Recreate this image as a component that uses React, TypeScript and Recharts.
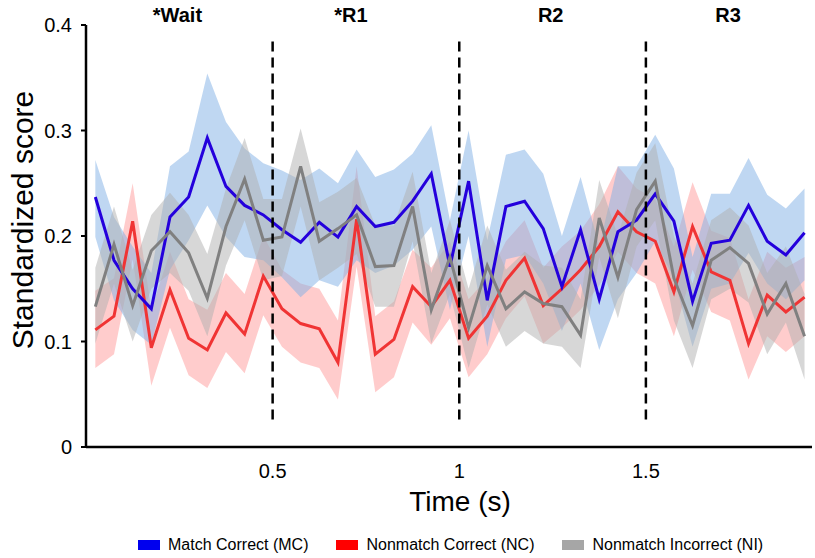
import React from 'react';
import {
  ComposedChart, Line, Area, XAxis, YAxis, ReferenceLine, ReferenceDot, Label,
} from 'recharts';

// bin centres (s)
const times = [
  0.025, 0.075, 0.125, 0.175, 0.225, 0.275, 0.325, 0.375, 0.425, 0.475,
  0.525, 0.575, 0.625, 0.675, 0.725, 0.775, 0.825, 0.875, 0.925, 0.975,
  1.025, 1.075, 1.125, 1.175, 1.225, 1.275, 1.325, 1.375, 1.425, 1.475,
  1.525, 1.575, 1.625, 1.675, 1.725, 1.775, 1.825, 1.875, 1.925,
];

// Match Correct
const mcMean = [
  0.237, 0.177, 0.150, 0.131, 0.218, 0.237, 0.293, 0.247, 0.229, 0.220,
  0.206, 0.194, 0.213, 0.199, 0.228, 0.209, 0.213, 0.233, 0.259, 0.171,
  0.252, 0.139, 0.228, 0.233, 0.207, 0.152, 0.206, 0.140, 0.204, 0.215,
  0.240, 0.214, 0.138, 0.193, 0.196, 0.229, 0.195, 0.182, 0.203,
];
const mcHi = [
  0.272, 0.218, 0.190, 0.165, 0.266, 0.280, 0.354, 0.308, 0.283, 0.269,
  0.262, 0.253, 0.264, 0.250, 0.282, 0.256, 0.263, 0.278, 0.305, 0.215,
  0.300, 0.196, 0.277, 0.282, 0.259, 0.200, 0.256, 0.190, 0.266, 0.266,
  0.296, 0.264, 0.180, 0.240, 0.240, 0.274, 0.239, 0.226, 0.245,
];
const mcLo = [
  0.199, 0.139, 0.111, 0.097, 0.168, 0.196, 0.229, 0.199, 0.180, 0.177,
  0.161, 0.142, 0.158, 0.152, 0.177, 0.165, 0.172, 0.187, 0.209, 0.130,
  0.200, 0.095, 0.178, 0.182, 0.155, 0.110, 0.155, 0.092, 0.140, 0.165,
  0.195, 0.160, 0.095, 0.150, 0.155, 0.184, 0.155, 0.140, 0.158,
];

// Nonmatch Correct
const ncMean = [
  0.111, 0.124, 0.214, 0.094, 0.149, 0.103, 0.092, 0.127, 0.107, 0.162,
  0.131, 0.117, 0.112, 0.080, 0.216, 0.088, 0.102, 0.152, 0.133, 0.158,
  0.103, 0.124, 0.158, 0.179, 0.134, 0.150, 0.168, 0.190, 0.223, 0.204,
  0.195, 0.147, 0.209, 0.166, 0.158, 0.098, 0.144, 0.128, 0.142,
];
const ncHi = [
  0.148, 0.160, 0.250, 0.130, 0.185, 0.140, 0.130, 0.165, 0.145, 0.200,
  0.168, 0.155, 0.150, 0.120, 0.266, 0.124, 0.138, 0.187, 0.170, 0.195,
  0.140, 0.160, 0.195, 0.215, 0.170, 0.190, 0.205, 0.230, 0.266, 0.245,
  0.235, 0.190, 0.251, 0.205, 0.198, 0.140, 0.185, 0.170, 0.180,
];
const ncLo = [
  0.075, 0.088, 0.178, 0.058, 0.113, 0.068, 0.056, 0.090, 0.070, 0.125,
  0.095, 0.080, 0.075, 0.045, 0.171, 0.052, 0.066, 0.118, 0.097, 0.122,
  0.066, 0.088, 0.122, 0.143, 0.098, 0.113, 0.130, 0.153, 0.185, 0.165,
  0.155, 0.105, 0.168, 0.128, 0.120, 0.064, 0.105, 0.090, 0.105,
];

// Nonmatch Incorrect
const niMean = [
  0.133, 0.192, 0.134, 0.186, 0.204, 0.184, 0.141, 0.209, 0.254, 0.196,
  0.199, 0.266, 0.195, 0.207, 0.220, 0.171, 0.172, 0.228, 0.130, 0.180,
  0.113, 0.172, 0.131, 0.147, 0.136, 0.133, 0.106, 0.217, 0.161, 0.225,
  0.252, 0.160, 0.115, 0.177, 0.189, 0.174, 0.126, 0.155, 0.105,
];
const niHi = [
  0.170, 0.228, 0.168, 0.220, 0.241, 0.220, 0.183, 0.245, 0.293, 0.235,
  0.235, 0.302, 0.232, 0.242, 0.255, 0.210, 0.210, 0.261, 0.165, 0.215,
  0.150, 0.210, 0.168, 0.185, 0.172, 0.170, 0.140, 0.253, 0.200, 0.260,
  0.288, 0.200, 0.155, 0.215, 0.227, 0.210, 0.165, 0.190, 0.145,
];
const niLo = [
  0.098, 0.155, 0.100, 0.150, 0.165, 0.148, 0.105, 0.172, 0.215, 0.158,
  0.162, 0.228, 0.158, 0.170, 0.183, 0.133, 0.133, 0.195, 0.098, 0.145,
  0.075, 0.135, 0.095, 0.110, 0.098, 0.095, 0.075, 0.180, 0.122, 0.190,
  0.215, 0.120, 0.075, 0.140, 0.150, 0.137, 0.088, 0.118, 0.064,
];

const xTicks = [0.5, 1, 1.5];
const yTicks = [0, 0.1, 0.2, 0.3, 0.4];
const epochBounds = [0.5, 1, 1.5];
const epochNames = ['*Wait', '*R1', 'R2', 'R3'];
const epochLabelAt = [0.245, 0.71, 1.245, 1.72];

const series = [
  { key: 'nc', name: 'Nonmatch Correct (NC)', line: '#f03434', band: '#ff9a9a', swatch: '#ff0000' },
  { key: 'mc', name: 'Match Correct (MC)', line: '#2400dc', band: '#7fb0e6', swatch: '#0000ee' },
  { key: 'ni', name: 'Nonmatch Incorrect (NI)', line: '#808080', band: '#b0b0b0', swatch: '#a6a6a6' },
];
const legendOrder = ['mc', 'nc', 'ni'];

const data = times.map((t, i) => ({
  t,
  mc: mcMean[i], mcBand: [mcLo[i], mcHi[i]],
  nc: ncMean[i], ncBand: [ncLo[i], ncHi[i]],
  ni: niMean[i], niBand: [niLo[i], niHi[i]],
}));

const FONT = '"Liberation Sans", Arial, Helvetica, sans-serif';

export default function App() {
  return (
    <div style={{ position: 'absolute', left: 0, top: 0, width: 815, height: 558, background: '#fff', fontFamily: FONT }}>
      <ComposedChart width={815} height={558} data={data} margin={{ top: 25, right: 3, bottom: 81, left: 26 }}>
        <XAxis
          dataKey="t" type="number" domain={[0, 1.945]} ticks={xTicks}
          tickFormatter={(v: number) => String(v)}
          axisLine={{ stroke: '#000', strokeWidth: 2.5 }} tickLine={false} tickSize={0} tickMargin={17} height={30}
          tick={{ fontSize: 20, fill: '#000', fontFamily: FONT }}
        >
          <Label
            content={() => (
              <text x={460} y={511} textAnchor="middle" fontSize={28} fontFamily={FONT} fill="#000">Time (s)</text>
            )}
          />
        </XAxis>
        <YAxis
          type="number" domain={[0, 0.4]} ticks={yTicks} width={60}
          tickFormatter={(v: number) => (v === 0 ? '0' : v.toFixed(1))}
          axisLine={{ stroke: '#000', strokeWidth: 2.5 }} tickLine={{ stroke: '#000', strokeWidth: 2 }}
          tickSize={5} tickMargin={9}
          tick={{ fontSize: 20, fill: '#000', fontFamily: FONT }}
        >
          <Label
            content={() => (
              <text x={22} y={220} transform="rotate(-90, 22, 220)" textAnchor="middle" dominantBaseline="central"
                fontSize={30} fontFamily={FONT} fill="#000">Standardized score</text>
            )}
          />
        </YAxis>

        {series.map((s) => [
          <Area key={s.key + 'b'} dataKey={s.key + 'Band'} type="linear" stroke="none" fill={s.band}
            fillOpacity={0.5} isAnimationActive={false} activeDot={false} />,
          <Line key={s.key + 'l'} dataKey={s.key} type="linear" stroke={s.line} strokeWidth={3}
            dot={false} activeDot={false} isAnimationActive={false} />,
        ])}

        {epochBounds.map((b) => (
          <ReferenceLine key={b} segment={[{ x: b, y: 0.026 }, { x: b, y: 0.388 }]}
            stroke="#000" strokeWidth={2.5} strokeDasharray="10 6" />
        ))}
        {epochNames.map((n, i) => (
          <ReferenceDot key={n} x={epochLabelAt[i]} y={0.4} r={0} fill="none" stroke="none"
            label={{
              position: 'top',
              content: (p: any) => (
                <text x={p.viewBox.x + (p.viewBox.width || 0) / 2} y={p.viewBox.y - 3} textAnchor="middle"
                  fontSize={20} fontWeight="bold" fontFamily={FONT} fill="#000">{n}</text>
              ),
            }} />
        ))}
      </ComposedChart>

      <div style={{ position: 'absolute', top: 536, left: 138, display: 'flex', alignItems: 'center', fontSize: 16, color: '#000', whiteSpace: 'nowrap' }}>
        {legendOrder.map((k, i) => {
          const s = series.find((x) => x.key === k)!;
          return (
            <div key={k} style={{ display: 'flex', alignItems: 'center', marginRight: i < 2 ? 28 : 0 }}>
              <span style={{ display: 'inline-block', width: 22, height: 10, background: s.swatch, marginRight: 8 }} />
              <span>{s.name}</span>
            </div>
          );
        })}
      </div>
    </div>
  );
}
